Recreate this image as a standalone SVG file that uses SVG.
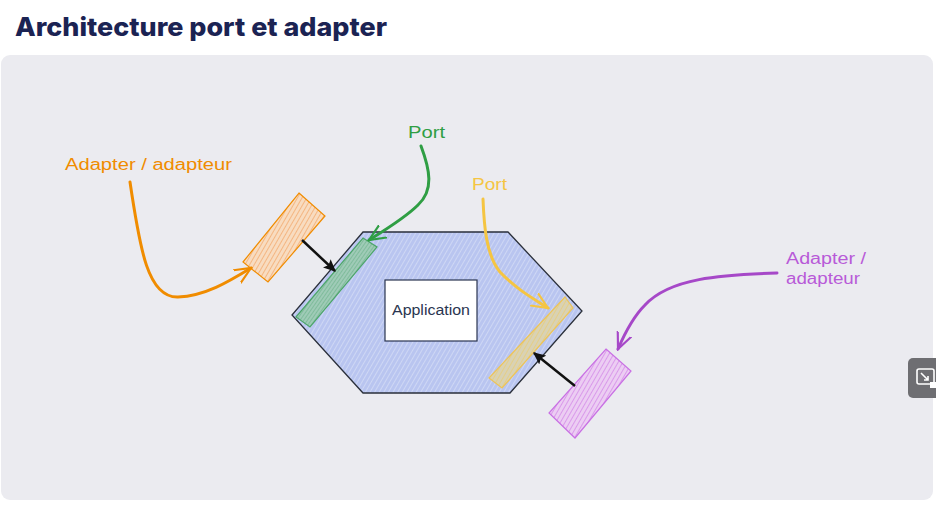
<svg xmlns="http://www.w3.org/2000/svg" width="936" height="506" viewBox="0 0 936 506">
<style>
.hand{font-family:"Liberation Sans","DejaVu Sans",sans-serif;font-size:16px}
.line{fill:none;stroke-width:3;stroke-linecap:round;stroke-linejoin:round}
</style>
<defs>
<pattern id="hBlue" patternUnits="userSpaceOnUse" width="4" height="4" patternTransform="rotate(30)">
<rect width="4" height="4" fill="#b9c5f0"/>
<line x1="0" y1="0" x2="0" y2="4" stroke="#dde3f8" stroke-width="1.2"/>
</pattern>
<pattern id="hOrange" patternUnits="userSpaceOnUse" width="4" height="4" patternTransform="rotate(30)">
<rect width="4" height="4" fill="#f8dcc0"/>
<line x1="0" y1="0" x2="0" y2="4" stroke="#f2a260" stroke-width="1.3"/>
</pattern>
<pattern id="hPurple" patternUnits="userSpaceOnUse" width="4" height="4" patternTransform="rotate(30)">
<rect width="4" height="4" fill="#eccdf3"/>
<line x1="0" y1="0" x2="0" y2="4" stroke="#cf7fe6" stroke-width="1.3"/>
</pattern>
<pattern id="hGreen" patternUnits="userSpaceOnUse" width="3" height="3" patternTransform="rotate(35)">
<rect width="3" height="3" fill="#9fcbb7"/>
<line x1="0" y1="0" x2="0" y2="3" stroke="#62ad82" stroke-width="1"/>
</pattern>
<pattern id="hYellow" patternUnits="userSpaceOnUse" width="4" height="4" patternTransform="rotate(30)">
<rect width="4" height="4" fill="#d9d2b4"/>
<line x1="0" y1="0" x2="0" y2="4" stroke="#eccb6a" stroke-width="1.2"/>
</pattern>
<marker id="aBlack" viewBox="0 0 10 10" refX="9" refY="5" markerWidth="5" markerHeight="5" orient="auto">
<path d="M0,0.5 L10,5 L0,9.5 L2,5 Z" fill="#111"/>
</marker>
<marker id="aOrange" viewBox="0 0 10 10" refX="9" refY="5" markerWidth="6" markerHeight="6" orient="auto" markerUnits="strokeWidth">
<path d="M0,1 L9,5 L0,9" fill="none" stroke="#f08c00" stroke-width="1.2" stroke-linecap="round"/>
</marker>
<marker id="aGreen" viewBox="0 0 10 10" refX="9" refY="5" markerWidth="6" markerHeight="6" orient="auto" markerUnits="strokeWidth">
<path d="M0,1 L9,5 L0,9" fill="none" stroke="#2f9e44" stroke-width="1.2" stroke-linecap="round"/>
</marker>
<marker id="aYellow" viewBox="0 0 10 10" refX="9" refY="5" markerWidth="6" markerHeight="6" orient="auto" markerUnits="strokeWidth">
<path d="M0,1 L9,5 L0,9" fill="none" stroke="#f5c542" stroke-width="1.2" stroke-linecap="round"/>
</marker>
<marker id="aPurple" viewBox="0 0 10 10" refX="9" refY="5" markerWidth="6" markerHeight="6" orient="auto" markerUnits="strokeWidth">
<path d="M0,1 L9,5 L0,9" fill="none" stroke="#a648c8" stroke-width="1.2" stroke-linecap="round"/>
</marker>
</defs>

<rect width="936" height="506" fill="#ffffff"/>
<text x="15" y="36" font-family="Inter,'Liberation Sans',sans-serif" font-weight="800" font-size="26" fill="#1b2353" textLength="372" lengthAdjust="spacingAndGlyphs">Architecture port et adapter</text>
<rect x="1" y="55" width="932" height="445" rx="9" fill="#ebebf0"/>

<g id="application-hexagon">
<polygon points="363,232 508,232 582,311 510,393 363,393 292,315" fill="url(#hBlue)" stroke="#2a2f3a" stroke-width="1.3"/>
</g>
<g id="application">
<rect x="385" y="280" width="92" height="61" fill="#ffffff" stroke="#2a3550" stroke-width="1.2"/>
<text x="431" y="315" text-anchor="middle" font-family="'Liberation Sans',sans-serif" font-size="14" fill="#2a3550" textLength="78" lengthAdjust="spacingAndGlyphs">Application</text>
</g>
<g id="port-left">
<polygon points="363,238 377,247 310,327 296,317" fill="url(#hGreen)" stroke="#4ca56a" stroke-width="1.2"/>
</g>
<g id="port-right">
<polygon points="565,297 573,308 502,388 489,378" fill="url(#hYellow)" stroke="#eec457" stroke-width="1.2"/>
</g>
<g id="adapter-left">
<polygon points="299,193 325,216 268,282 243,262" fill="url(#hOrange)" stroke="#f08c00" stroke-width="1.2"/>
</g>
<g id="adapter-right">
<polygon points="606,349 631,371 575,438 549,413" fill="url(#hPurple)" stroke="#c970e4" stroke-width="1.2"/>
</g>

<g id="labels">
<text class="hand" x="65" y="170" fill="#f08c00" textLength="167" lengthAdjust="spacingAndGlyphs">Adapter / adapteur</text>
<text class="hand" x="408" y="138" fill="#2f9e44" textLength="37" lengthAdjust="spacingAndGlyphs">Port</text>
<text class="hand" x="472" y="190" fill="#f5c542" textLength="35" lengthAdjust="spacingAndGlyphs">Port</text>
<text class="hand" x="786" y="264" fill="#b85ad8" textLength="80" lengthAdjust="spacingAndGlyphs">Adapter /</text>
<text class="hand" x="786" y="284" fill="#b85ad8" textLength="74" lengthAdjust="spacingAndGlyphs">adapteur</text>
</g>

<g id="connectors">
<path class="line" d="M130,182 C140,250 148,298 178,297 C205,296 228,282 251,268" stroke="#f08c00" marker-end="url(#aOrange)"/>
<path class="line" d="M421,146 C430,170 434,190 418,205 C405,218 385,230 369,240" stroke="#2f9e44" marker-end="url(#aGreen)"/>
<path class="line" d="M483,199 C484,225 486,255 500,272 C515,288 532,298 548,308" stroke="#f5c542" marker-end="url(#aYellow)"/>
<path class="line" d="M777,273 C720,275 670,278 645,305 C632,318 624,335 618,349" stroke="#a648c8" marker-end="url(#aPurple)"/>
<path d="M302,240 L335,271" stroke="#111" stroke-width="2.5" fill="none" marker-end="url(#aBlack)"/>
<path d="M575,386 L534,353" stroke="#111" stroke-width="2.5" fill="none" marker-end="url(#aBlack)"/>
</g>

<g id="overlay-button">
<rect x="908" y="358" width="40" height="40" rx="5" fill="#6e6e72"/>
<rect x="917" y="369" width="17" height="15" rx="2" fill="none" stroke="#ffffff" stroke-width="1.6"/>
<path d="M921,373 L928,380 M928,376 L928,380 L924,380" stroke="#ffffff" stroke-width="1.6" fill="none"/>
<rect x="930" y="382" width="6" height="6" fill="#ffffff"/>
</g>
</svg>
